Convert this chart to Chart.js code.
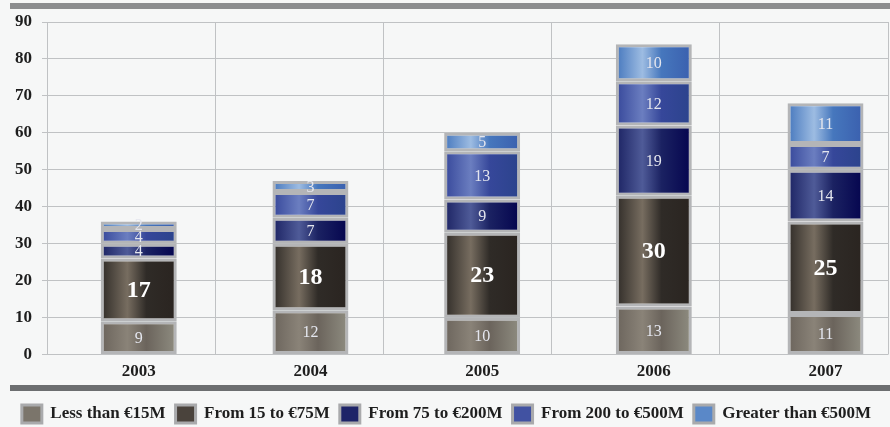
<!DOCTYPE html>
<html>
<head>
<meta charset="utf-8">
<script src="https://cdn.jsdelivr.net/npm/chart.js@4.4.1/dist/chart.umd.min.js"></script>
<style>
  html, body { margin: 0; padding: 0; background: #f6f7f7; }
  #wrap { position: relative; width: 890px; height: 427px; }
  .band { position: absolute; left: 10px; right: 0; height: 6px; }
  #topBand { top: 3px; background: #8c8d8f; }
  #bottomBand { top: 385px; background: #6c6e70; }
</style>
</head>
<body>
<div id="wrap">
  <div class="band" id="topBand"></div>
  <div class="band" id="bottomBand"></div>
  <canvas id="chart" width="890" height="427"></canvas>
</div>
<script>
// years and series
const years = ['2003', '2004', '2005', '2006', '2007'];
const seriesNames = ['Less than €15M', 'From 15 to €75M', 'From 75 to €200M', 'From 200 to €500M', 'Greater than €500M'];
const lessThan15 = [9, 12, 10, 13, 11];
const from15to75 = [17, 18, 23, 30, 25];
const from75to200 = [4, 7, 9, 19, 14];
const from200to500 = [4, 7, 13, 12, 7];
const greater500 = [2, 3, 5, 10, 11];
const yTicks = [0, 10, 20, 30, 40, 50, 60, 70, 80, 90];

// gradient stops for each series: left edge, light stripe, right edge
const palettes = [
    ['#6b645c', '#8a8378', '#8f8d81'],
    ['#2f2b27', '#776d60', '#2a2420'],
    ['#1b2262', '#4f5b98', '#04044e'],
    ['#36479a', '#6b7ec0', '#2b438c'],
    ['#4677bd', '#9dbce2', '#3a5fae']
];
const solid = ['#7b756b', '#4a433c', '#1e2468', '#4152a2', '#5a88c8'];

const serif = "'Liberation Serif', 'DejaVu Serif', serif";

function barGradient(ctx, idx) {
    const chart = ctx.chart;
    const xs = chart.scales.x;
    if (!xs || !chart.chartArea) return solid[idx];
    const cx = xs.getPixelForValue(ctx.dataIndex);
    const half = 38;
    const g = chart.ctx.createLinearGradient(cx - half, 0, cx + half, 0);
    const p = palettes[idx];
    g.addColorStop(0, p[0]);
    g.addColorStop(0.35, p[1]);
    g.addColorStop(0.6, p[0]);
    g.addColorStop(1, p[2]);
    return g;
}

const allSeries = [lessThan15, from15to75, from75to200, from200to500, greater500];

// the bars sit on a slightly wider spacing than the grid columns in the original,
// so they use their own linear axis while the grid comes from a category axis
const datasets = allSeries.map((values, i) => ({
    label: seriesNames[i],
    data: values.map((v, j) => ({ x: j, y: v })),
    backgroundColor: (ctx) => barGradient(ctx, i),
    borderColor: '#b4b5b7',
    borderWidth: 3,
    borderSkipped: false,
    barPercentage: 0.885,
    categoryPercentage: 0.5
}));

// value labels in the middle of each segment
const segmentLabels = {
    id: 'segmentLabels',
    afterDatasetsDraw(chart) {
        const c = chart.ctx;
        c.save();
        c.textAlign = 'center';
        c.textBaseline = 'middle';
        chart.data.datasets.forEach((ds, i) => {
            const meta = chart.getDatasetMeta(i);
            meta.data.forEach((bar, j) => {
                const mid = (bar.y + bar.base) / 2;
                if (i === 1) {
                    c.font = "bold 24px " + serif;
                    c.fillStyle = '#ffffff';
                } else {
                    c.font = "16px " + serif;
                    c.fillStyle = '#e4e6ee';
                }
                c.fillText(String(allSeries[i][j]), bar.x, mid + 1);
            });
        });
        c.restore();
    }
};

// nudge the legend a little lower, as in the original
const legendShift = {
    id: 'legendShift',
    afterLayout(chart) {
        if (chart.legend) {
            chart.legend.top += 6;
            chart.legend.bottom += 6;
        }
    }
};

new Chart(document.getElementById('chart'), {
    type: 'bar',
    data: { datasets: datasets },
    plugins: [segmentLabels, legendShift],
    options: {
        responsive: false,
        animation: false,
        layout: { padding: { top: 22, left: 5, right: 2, bottom: 0 } },
        scales: {
            x: {
                type: 'linear',
                stacked: true,
                offset: false,
                min: -0.5345,
                max: 4.364,
                afterBuildTicks(axis) { axis.ticks = years.map((y, i) => ({ value: i })); },
                grid: { display: false, drawTicks: false },
                border: { display: false },
                ticks: {
                    color: '#1e1e1e',
                    font: { family: serif, size: 17, weight: 'bold' },
                    padding: 7,
                    callback: (v) => years[v]
                }
            },
            xg: {
                type: 'category',
                labels: years,
                position: 'top',
                offset: true,
                grid: { color: '#c0c2c4', lineWidth: 1, offset: true, drawTicks: false },
                border: { display: false },
                ticks: { display: false }
            },
            y: {
                stacked: true,
                min: 0,
                max: 90,
                afterBuildTicks(axis) { axis.ticks = yTicks.map(v => ({ value: v })); },
                grid: { color: '#c0c2c4', lineWidth: 1, tickLength: 5 },
                border: { color: '#c0c2c4' },
                ticks: { color: '#1e1e1e', font: { family: serif, size: 17, weight: 'bold' }, padding: 10 }
            }
        },
        plugins: {
            tooltip: { enabled: false },
            legend: {
                position: 'bottom',
                labels: {
                    color: '#1e1e1e',
                    font: { family: serif, size: 17, weight: 'bold' },
                    boxWidth: 20,
                    boxHeight: 18,
                    padding: 10,
                    generateLabels(chart) {
                        return seriesNames.map((name, i) => ({
                            text: name,
                            fillStyle: solid[i],
                            strokeStyle: '#a9aaac',
                            lineWidth: 3,
                            datasetIndex: i,
                            fontColor: '#1e1e1e'
                        }));
                    }
                }
            }
        }
    }
});
</script>
</body>
</html>
